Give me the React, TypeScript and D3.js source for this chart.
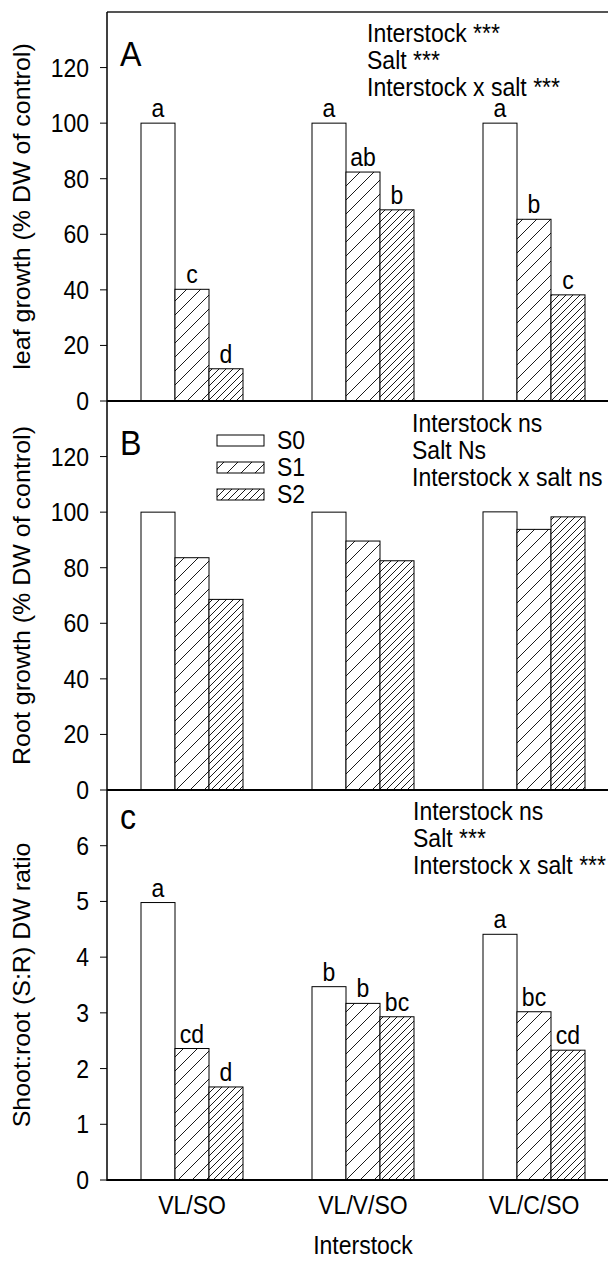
import React from "react";
import * as d3 from "d3";

const categories = ["VL/SO", "VL/V/SO", "VL/C/SO"];
const seriesNames = ["S0", "S1", "S2"];

const leafS0 = [100, 100, 100];
const leafS1 = [40.2, 82.4, 65.4];
const leafS2 = [11.6, 68.8, 38.2];
const leafLetS0 = ["a", "a", "a"];
const leafLetS1 = ["c", "ab", "b"];
const leafLetS2 = ["d", "b", "c"];
const leafStats = ["Interstock ***", "Salt ***", "Interstock x salt ***"];

const rootS0 = [100, 100, 100.1];
const rootS1 = [83.6, 89.6, 93.8];
const rootS2 = [68.6, 82.5, 98.3];
const rootStats = ["Interstock ns", "Salt Ns", "Interstock x salt ns"];

const ratioS0 = [4.98, 3.47, 4.41];
const ratioS1 = [2.36, 3.17, 3.02];
const ratioS2 = [1.67, 2.93, 2.33];
const ratioLetS0 = ["a", "b", "a"];
const ratioLetS1 = ["cd", "b", "bc"];
const ratioLetS2 = ["d", "bc", "cd"];
const ratioStats = ["Interstock ns", "Salt ***", "Interstock x salt ***"];

const growthTicks = [0, 20, 40, 60, 80, 100, 120];
const ratioTicks = [0, 1, 2, 3, 4, 5, 6];

const FONT = "'Liberation Sans', Arial, Helvetica, sans-serif";
const W = 608;
const H = 1265;
const AX = 107;
const RIGHT = 620;
const SX = 0.92;
const FS = 25;

const panels = [
  {
    key: "A", letter: "A", letterY: 66, top: 12, bottom: 401, max: 140, ticks: growthTicks,
    title: "leaf growth (% DW of control)",
    values: [leafS0, leafS1, leafS2], letters: [leafLetS0, leafLetS1, leafLetS2],
    stats: leafStats, statsX: 367, statsY: 42, legend: false,
  },
  {
    key: "B", letter: "B", letterY: 455, top: 401, bottom: 790, max: 140, ticks: growthTicks,
    title: "Root growth (% DW of control)",
    values: [rootS0, rootS1, rootS2], letters: null,
    stats: rootStats, statsX: 412, statsY: 432, legend: true,
  },
  {
    key: "C", letter: "c", letterY: 829, top: 790, bottom: 1180, max: 7, ticks: ratioTicks,
    title: "Shoot:root (S:R) DW ratio",
    values: [ratioS0, ratioS1, ratioS2], letters: [ratioLetS0, ratioLetS1, ratioLetS2],
    stats: ratioStats, statsX: 413, statsY: 820, legend: false,
  },
];

const xGroup = d3.scalePoint<string>().domain(categories).range([192, 534]);
const xInner = d3.scaleBand<string>().domain(seriesNames).range([-51, 51]).padding(0);
const fills = ["#ffffff", "url(#hatch1)", "url(#hatch2)"];

function T({ x, y, size = FS, anchor = "start", dy, children }: any) {
  return (
    <text transform={`translate(${x},${y}) scale(${SX},1)`} fontSize={size} textAnchor={anchor}
      dy={dy} fill="#000">{children}</text>
  );
}

export default function App() {
  return (
    <svg width={W} height={H} style={{ position: "absolute", left: 0, top: 0, background: "#fff" }}
      fontFamily={FONT}>
      <defs>
        <pattern id="hatch1" patternUnits="userSpaceOnUse" width={14} height={14}>
          <rect width={14} height={14} fill="#fff" />
          <path d="M0,14 L14,0 M-2,2 L2,-2 M12,16 L16,12" stroke="#000" strokeWidth={0.9} />
        </pattern>
        <pattern id="hatch2" patternUnits="userSpaceOnUse" width={7} height={7}>
          <rect width={7} height={7} fill="#fff" />
          <path d="M0,7 L7,0 M-1,1 L1,-1 M6,8 L8,6" stroke="#000" strokeWidth={0.9} />
        </pattern>
      </defs>
      <rect width={W} height={H} fill="#fff" />
      {panels.map((p) => {
        const y = d3.scaleLinear().domain([0, p.max]).range([p.bottom, p.top]);
        return (
          <g key={p.key}>
            {p.values.map((vals, si) =>
              vals.map((v, ci) => {
                const x = xGroup(categories[ci])! + xInner(seriesNames[si])!;
                return (
                  <rect key={`${si}-${ci}`} x={x} y={y(v)} width={xInner.bandwidth()}
                    height={p.bottom - y(v)} fill={fills[si]} stroke="#000" strokeWidth={1} />
                );
              })
            )}
            {p.letters && p.letters.map((lets, si) =>
              lets.map((t, ci) => {
                const x = xGroup(categories[ci])! + xInner(seriesNames[si])! + xInner.bandwidth() / 2;
                return (
                  <T key={`l${si}-${ci}`} x={x} y={y(p.values[si][ci]) - 6} anchor="middle">{t}</T>
                );
              })
            )}
            <line x1={AX} x2={RIGHT} y1={p.bottom} y2={p.bottom} stroke="#000" strokeWidth={2} />
            {p.ticks.map((t) => (
              <g key={`t${t}`}>
                <line x1={AX - 7} x2={AX} y1={y(t)} y2={y(t)} stroke="#000" strokeWidth={1} />
                <T x={89} y={y(t)} dy="0.36em" anchor="end">{t}</T>
              </g>
            ))}
            <T x={120} y={p.letterY} size={35}>{p.letter}</T>
            {p.stats.map((s, i) => (
              <T key={`s${i}`} x={p.statsX} y={p.statsY + i * 27}>{s}</T>
            ))}
            <text transform={`translate(30,${(p.top + p.bottom) / 2}) scale(${SX},1) rotate(-90)`}
              fontSize={FS} textAnchor="middle" fill="#000">{p.title}</text>
            {p.legend && seriesNames.map((s, i) => (
              <g key={`lg${s}`}>
                <rect x={217} y={435 + i * 27} width={47} height={11} fill={fills[i]} stroke="#000" strokeWidth={1} />
                <T x={277} y={449 + i * 27}>{s}</T>
              </g>
            ))}
          </g>
        );
      })}
      <line x1={AX} x2={RIGHT} y1={12} y2={12} stroke="#555" strokeWidth={2} />
      <line x1={AX} x2={AX} y1={12} y2={1181} stroke="#000" strokeWidth={1.5} />
      {categories.map((c) => (
        <T key={c} x={xGroup(c)} y={1214} anchor="middle">{c}</T>
      ))}
      <T x={363} y={1254} anchor="middle">Interstock</T>
    </svg>
  );
}
